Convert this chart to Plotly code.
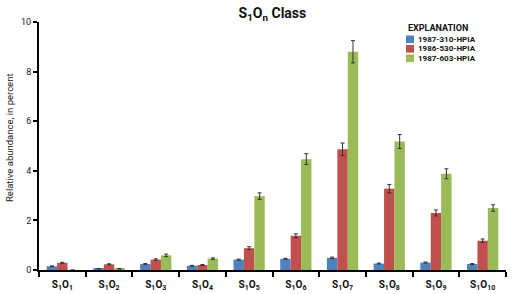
import plotly.graph_objects as go

categories = ["S1O1", "S1O2", "S1O3", "S1O4", "S1O5", "S1O6", "S1O7", "S1O8", "S1O9", "S1O10"]
tick_labels = ["<b>S<sub>1</sub>O<sub>%s</sub></b>" % c.split("O")[1] for c in categories]

series_names = ["1987-310-HPIA", "1986-530-HPIA", "1987-603-HPIA"]
blue = [0.15, 0.05, 0.24, 0.17, 0.42, 0.45, 0.49, 0.26, 0.30, 0.24]
blue_err = [0.015, 0.01, 0.02, 0.015, 0.02, 0.02, 0.03, 0.02, 0.02, 0.02]
red = [0.29, 0.23, 0.42, 0.20, 0.88, 1.38, 4.87, 3.28, 2.30, 1.18]
red_err = [0.02, 0.02, 0.03, 0.02, 0.06, 0.08, 0.25, 0.17, 0.12, 0.07]
green = [0.0, 0.05, 0.59, 0.46, 2.98, 4.47, 8.80, 5.18, 3.88, 2.50]
green_err = [0.0, 0.01, 0.05, 0.03, 0.13, 0.22, 0.45, 0.28, 0.20, 0.13]
colors = ["#4F81BD", "#C0504D", "#9BBB59"]

NARROW = "Liberation Sans Narrow, Arial Narrow, Roboto, sans-serif"

fig = go.Figure()
for name, vals, errs, col in zip(series_names, [blue, red, green],
                                 [blue_err, red_err, green_err], colors):
    fig.add_trace(go.Bar(
        x=categories, y=vals, name=name,
        marker=dict(color=col, line=dict(width=0)),
        error_y=dict(type="data", array=errs, color="#333333", thickness=1, width=2),
        showlegend=False,
    ))

fig.update_layout(
    width=515, height=294,
    margin=dict(l=39, r=9, t=22, b=24),
    paper_bgcolor="white", plot_bgcolor="white",
    barmode="group", bargap=0.33, bargroupgap=0,
    font=dict(family=NARROW, color="#222222"),
    title=dict(text="<b>S<sub>1</sub>O<sub>n</sub> Class</b>",
               font=dict(size=14, color="#111111", family=NARROW),
               x=0.529, xanchor="center", y=0.955, yanchor="middle"),
)
fig.update_xaxes(
    type="category", tickmode="array", tickvals=categories, ticktext=tick_labels,
    tickson="boundaries", ticks="outside", ticklen=5, tickwidth=2, tickcolor="black",
    ticklabelstandoff=4, automargin=False,
    showline=True, linewidth=2, linecolor="black", showgrid=False,
    tickfont=dict(size=10, color="#111111", family=NARROW),
    range=[-0.5, 9.5],
)
fig.update_yaxes(
    range=[0, 10], tickmode="array", tickvals=[0, 2, 4, 6, 8, 10],
    ticks="outside", ticklen=4, tickwidth=2, tickcolor="black", automargin=False,
    showline=True, linewidth=2, linecolor="black", showgrid=False, zeroline=False,
    tickfont=dict(size=9, color="#222222", family=NARROW),
)

# Y-axis title placed to match the reference
fig.add_annotation(xref="paper", yref="paper", x=(9 - 39) / 467, y=(270 - 138) / 248,
                   text="Relative abundance, in percent", showarrow=False, textangle=-90,
                   xanchor="center", yanchor="middle",
                   font=dict(size=9.5, color="#222222", family=NARROW))

# Manual legend ("EXPLANATION")
fig.add_annotation(xref="paper", yref="paper", x=(438 - 39) / 467, y=(270 - 28) / 248,
                   text="<b>EXPLANATION</b>", showarrow=False, xanchor="center", yanchor="middle",
                   font=dict(size=9, color="#111111", family=NARROW))
for i, (name, col) in enumerate(zip(series_names, colors)):
    yc = 39.3 + i * 9.5
    fig.add_shape(type="rect", xref="paper", yref="paper",
                  x0=(406 - 39) / 467, x1=(414 - 39) / 467,
                  y0=(270 - (yc + 3.8)) / 248, y1=(270 - (yc - 3.8)) / 248,
                  fillcolor=col, line=dict(width=0))
    fig.add_annotation(xref="paper", yref="paper", x=(416 - 39) / 467, y=(270 - yc) / 248,
                       text="<b>%s</b>" % name, showarrow=False, xanchor="left", yanchor="middle",
                       font=dict(size=8, color="#111111", family=NARROW))

fig.write_html("out.html")
